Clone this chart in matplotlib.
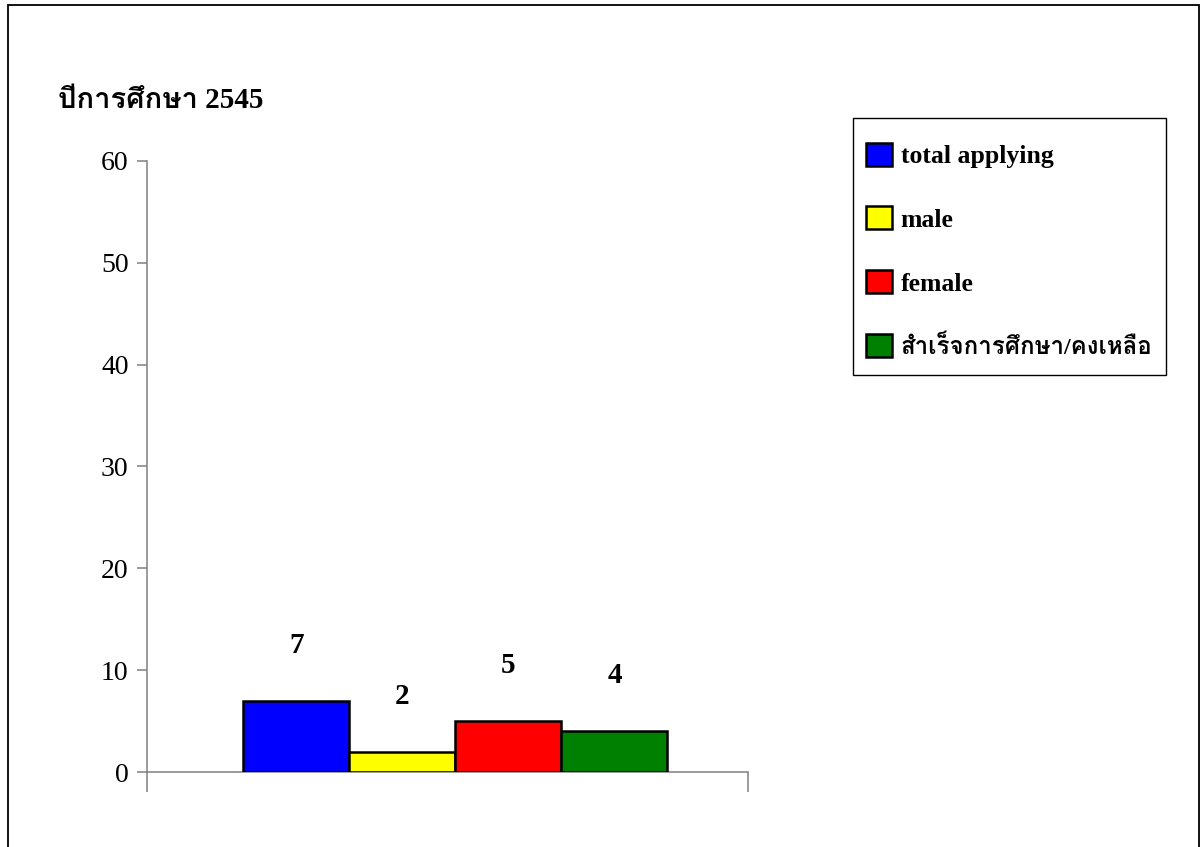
import matplotlib
matplotlib.use("Agg")
import matplotlib.pyplot as plt
from matplotlib import font_manager
from matplotlib.ft2font import FT2Font
from matplotlib.patches import Rectangle

# ---- data ----
title = "ปีการศึกษา 2545"
series_names = ["total applying", "male", "female", "สำเร็จการศึกษา/คงเหลือ"]
values = [7, 2, 5, 4]
colors = ["#0000FF", "#FFFF00", "#FF0000", "#008000"]
yticks = [0, 10, 20, 30, 40, 50, 60]

# find an installed font that covers Thai
thai_font = None
for fe in font_manager.fontManager.ttflist:
    try:
        cm = FT2Font(fe.fname).get_charmap()
    except Exception:
        continue
    if 0x0E01 in cm and 0x0E32 in cm:
        thai_font = fe.name
        break

families = ["Liberation Serif"] + ([thai_font] if thai_font else []) + ["DejaVu Sans"]
plt.rcParams["font.family"] = families

W, H = 1200, 847
fig = plt.figure(figsize=(12, 8.47), dpi=100)
ax = fig.add_axes([147 / W, 1 - 772 / H, (748 - 147) / W, (772 - 161) / H])

w = 0.1765
n = len(values)
center = 0.513
handles = []
for i, (v, c, name) in enumerate(zip(values, colors, series_names)):
    xc = center + (i - (n - 1) / 2) * w
    b = ax.bar(xc, v, width=w, color=c, edgecolor="black", linewidth=1.8,
               label=name, zorder=3)
    handles.append(b)
    ax.annotate(str(v), (xc, v), xytext=(0, 40), textcoords="offset points",
                ha="center", va="center", fontsize=21, fontweight="bold")

ax.set_xlim(0, 1)
ax.set_ylim(0, 60)
ax.set_yticks(yticks)
ax.set_xticks([0, 1])
ax.set_xticklabels(["", ""])
ax.tick_params(axis="x", direction="out", length=14.4, width=1.1, color="#808080")
ax.tick_params(axis="y", direction="out", length=7.2, width=1.1, color="#808080",
               labelsize=20, pad=6)
for s in ["top", "right"]:
    ax.spines[s].set_visible(False)
for s in ["left", "bottom"]:
    ax.spines[s].set_color("#808080")
    ax.spines[s].set_linewidth(1.1)

fig.text(58 / W, 1 - 100 / H, title, fontsize=21, fontweight="bold",
         ha="left", va="center")

leg = fig.legend(handles=handles, labels=series_names, loc="center left",
                 bbox_to_anchor=(866 / W, 1 - 251 / H), frameon=False,
                 prop={"size": 18.5, "weight": "bold"},
                 handlelength=1.0, handleheight=1.0, handletextpad=0.35,
                 labelspacing=1.5, borderpad=0, borderaxespad=0)
leg.get_texts()[3].set_fontsize(17.3)

# legend frame
fig.patches.append(Rectangle((853 / W, 1 - 375 / H), (1166 - 853) / W, (375 - 118) / H,
                             transform=fig.transFigure, fill=False,
                             edgecolor="black", linewidth=1.0))

# outer chart border
fig.patches.append(Rectangle((7.5 / W, -0.05), (1198.5 - 7.5) / W, 1.05 - 5.5 / H,
                             transform=fig.transFigure, fill=False,
                             edgecolor="black", linewidth=1.3))

fig.savefig("out.png", dpi=100)
